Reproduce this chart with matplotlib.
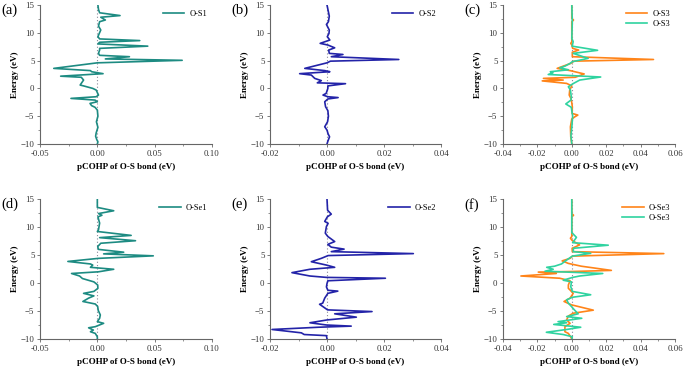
import numpy as np
import matplotlib
matplotlib.use("Agg")
import matplotlib.pyplot as plt
from matplotlib.ticker import MultipleLocator, FormatStrFormatter

plt.rcParams['font.family'] = ['Liberation Serif', 'DejaVu Serif']

# (a) O-S1
a_E = [15, 14.2, 13.6, 13.1, 12.8, 12.3, 12.0, 11.2, 10.5, 9.8, 9.3, 8.9, 8.6, 8.3, 8.0, 7.6, 7.2, 6.9,
       6.3, 5.95, 5.7, 5.3, 5.05, 4.6, 3.6, 3.2, 3.0, 2.65, 2.2, 2.0, 1.5, 0.6, 0.45, 0.0, -0.3, -1.2,
       -1.5, -1.8, -2.1, -2.4, -2.7, -3.1, -3.4, -3.9, -5.0, -6.0, -7.0, -8.0, -8.6, -9.2, -9.6, -10]
a_V = [0.0005, 0.001, 0.002, 0.0198, 0.003, 0.007, 0.002, 0.001, 0.003, 0.0015, 0.0005, 0.002, 0.037,
       0.002, 0.0005, 0.044, 0.002, 0.002, 0.001, 0.002, 0.028, 0.007, 0.074, 0.0, -0.038, -0.006,
       -0.005, 0.005, -0.032, -0.014, -0.012, -0.015, -0.012, -0.004, -0.001, 0.001, -0.001, -0.023,
       -0.002, 0.0, -0.0064, -0.005, -0.002, 0.0, 0.0005, -0.0008, 0.0005, -0.001, -0.0015, -0.0005,
       0.0005, 0.0]

# (b) O-S2
b_E = [15, 14, 13, 12, 11.5, 11, 10.5, 9.9, 9.3, 8.7, 8.1, 7.8, 7.3, 6.9, 6.3, 6.1, 5.7, 5.2, 4.9, 4.6,
       3.6, 3.2, 3.0, 2.65, 2.4, 1.8, 1.4, 1.0, 0.85, 0.45, 0.0, -0.9, -1.2, -1.5, -1.65, -1.9, -2.4,
       -3.3, -4.0, -5.0, -6.0, -6.9, -7.5, -8.2, -8.7, -9.5, -10]
b_V = [0.0, 0.0004, 0.0008, 0.0005, -0.0002, 0.0003, 0.0008, 0.0007, 0.0001, 0.001, -0.0024, 0.0003,
       0.0027, 0.0006, 0.0008, 0.0056, 0.0015, 0.0252, 0.0012, 0.0, -0.0078, -0.0008, 0.001, -0.0096,
       -0.0055, -0.0043, -0.002, -0.0034, 0.0065, 0.0003, 0.0003, -0.0003, -0.0014, 0.0003, 0.0039,
       0.0003, -0.0008, -0.0005, 0.0003, 0.0005, 0.0002, -0.0008, 0.0, 0.0004, 0.0009, 0.0003, 0.0]

# (c) O-S3, two curves
c1_E = [15, 12.6, 12.3, 12.0, 8.4, 8.1, 7.8, 7.2, 6.9, 6.5, 5.7, 5.2, 4.9, 4.5, 3.6, 3.2, 2.6, 2.0, 1.8,
        1.5, 1.35, 0.9, 0.45, -0.3, -1.2, -1.8, -2.6, -3.3, -4.5, -4.8, -5.1, -5.5, -6.9, -8.7, -10]
c1_V = [0.0, 0.0, 0.001, 0.0, 0.0, -0.0006, 0.0, 0.0005, 0.004, 0.0003, 0.0003, 0.0475, 0.0012, -0.0006,
        -0.0085, -0.001, 0.0072, 0.002, -0.0165, -0.005, -0.0172, -0.003, 0.0, -0.0012, -0.0015,
        -0.0005, 0.0, 0.0003, 0.0002, 0.0035, 0.0018, 0.0, -0.0008, -0.0006, 0.0]
c2_E = [15, 12, 9.0, 8.4, 7.6, 6.85, 6.3, 5.4, 4.8, 4.5, 4.0, 3.7, 3.35, 3.0, 2.8, 2.5, 2.05, 1.5, 0.9,
        0.3, -0.3, -1.5, -2.1, -2.8, -3.4, -5.0, -7.0, -8.5, -10]
c2_V = [0.0, 0.0003, 0.0, 0.0008, 0.0002, 0.015, 0.0008, 0.0095, 0.0003, -0.001, -0.004, -0.007, -0.002,
        -0.0125, -0.011, -0.0137, 0.0168, 0.0046, 0.001, -0.002, -0.0008, -0.0003, -0.0005, -0.0035,
        -0.0003, 0.0005, 0.0, -0.0005, 0.0]

# (d) O-Se1
d_E = [15, 13.5, 12.9, 12.4, 12.1, 11.8, 10.7, 9.5, 9.2, 8.5, 8.1, 7.55, 7.1, 6.5, 6.0, 5.5, 5.2, 4.85,
       4.4, 3.85, 3.4, 3.2, 2.8, 2.45, 2.0, 1.7, 1.25, 0.8, 0.2, -0.35, -0.95, -1.5, -1.85, -2.3, -2.7,
       -3.3, -3.75, -4.2, -4.9, -5.7, -6.3, -6.9, -7.2, -7.8, -8.0, -8.4, -8.7, -9.0, -9.6, -10]
d_V = [0.0, 0.0, 0.0143, 0.001, 0.004, 0.0005, 0.002, 0.001, 0.0, 0.0295, 0.002, 0.0333, 0.003, 0.0003,
       0.001, 0.023, 0.0055, 0.0488, 0.001, -0.0257, -0.006, -0.004, -0.006, 0.0143, 0.001, -0.0225,
       -0.0155, -0.013, -0.003, 0.0003, 0.0005, -0.003, -0.012, -0.003, -0.0076, -0.0126, -0.0018,
       0.0003, 0.0008, 0.0026, 0.002, 0.0, 0.0055, -0.0018, -0.0076, -0.0035, -0.006, -0.0018, 0.0, 0.0]

# (e) O-Se2
e_E = [15, 13.0, 12.3, 11.8, 11.0, 10.65, 10.1, 8.9, 8.3, 7.4, 6.9, 6.4, 6.05, 5.6, 5.25, 4.9, 4.4, 3.8,
       3.2, 2.8, 2.45, 1.85, 1.25, 1.0, 0.85, 0.4, -0.1, -0.7, -1.3, -1.45, -1.85, -2.7, -3.6, -3.8,
       -4.3, -4.8, -5.1, -5.5, -6.1, -6.6, -7.1, -7.5, -7.7, -7.9, -8.3, -8.9, -9.2, -9.4, -10]
e_V = [0.0, 0.0002, 0.0015, 0.0001, -0.0008, 0.0004, -0.0002, -0.0006, 0.0003, 0.0027, 0.0003, 0.0015,
       0.006, 0.0015, 0.0303, 0.0004, -0.002, -0.0055, -0.0002, 0.0027, -0.006, -0.0123, -0.006,
       -0.0002, 0.0205, 0.0003, 0.0, -0.0002, 0.0003, 0.0038, 0.0003, -0.0008, -0.0015, -0.0026,
       -0.0012, 0.0002, 0.0158, 0.0027, 0.0103, 0.0, -0.006, -0.0002, 0.0085, -0.003, -0.0193, -0.009,
       -0.008, -0.0002, 0.0]

# (f) O-Se3, two curves
f1_E = [15, 12.4, 12.1, 11.8, 8.3, 8.0, 7.6, 6.8, 6.2, 5.6, 5.25, 4.8, 4.4, 3.95, 3.5, 3.0, 2.25, 2.05,
        1.95, 1.7, 1.25, 0.85, 0.4, -0.35, -0.95, -1.25, -1.85, -2.7, -3.3, -3.9, -4.85, -5.4, -5.9,
        -6.6, -7.2, -7.8, -8.7, -9.0, -9.6, -10]
f1_V = [0.0, 0.0, 0.001, 0.0, 0.0, -0.0008, 0.0002, 0.0045, 0.0002, 0.0003, 0.0535, 0.0005, -0.001,
        -0.0056, -0.002, 0.0055, 0.023, 0.0, -0.0195, -0.009, -0.0296, -0.007, -0.001, -0.002, -0.002,
        -0.001, 0.0008, -0.001, -0.0045, -0.0002, 0.0125, 0.0008, -0.002, -0.003, -0.001, -0.004,
        -0.004, -0.002, -0.0007, 0.0]
f2_E = [15, 9.0, 8.15, 7.2, 6.75, 6.2, 5.6, 5.3, 4.8, 4.1, 3.4, 3.0, 2.8, 2.45, 2.1, 1.7, 1.25, 1.0, 0.5,
        0.2, -0.65, -1.5, -2.1, -2.55, -3.0, -3.6, -4.2, -4.8, -5.5, -6.0, -6.3, -6.9, -7.1, -7.4, -7.9,
        -8.3, -8.8, -9.2, -9.6, -10]
f2_V = [0.0, 0.0, 0.0027, 0.0005, 0.0212, 0.001, 0.0008, 0.011, 0.0003, -0.003, -0.006, -0.01, -0.0146,
        -0.0108, -0.0156, 0.018, 0.0046, 0.0005, -0.005, -0.0002, -0.0006, 0.0003, 0.011, 0.0003,
        -0.003, -0.002, -0.0002, 0.0015, 0.0037, -0.003, 0.0058, -0.008, -0.003, -0.0105, 0.0052,
        -0.003, -0.0148, -0.005, 0.0003, 0.0]

TEAL = '#1d8b82'
BLUE = '#2323a8'
ORANGE = '#ff8419'
MINT = '#2fd3a0'

panels = [
    ('(a)', (-0.05, 0.10), 0.05, [(a_E, a_V, TEAL, 'O-S1')]),
    ('(b)', (-0.02, 0.04), 0.02, [(b_E, b_V, BLUE, 'O-S2')]),
    ('(c)', (-0.04, 0.06), 0.02, [(c1_E, c1_V, ORANGE, 'O-S3'), (c2_E, c2_V, MINT, 'O-S3')]),
    ('(d)', (-0.05, 0.10), 0.05, [(d_E, d_V, TEAL, 'O-Se1')]),
    ('(e)', (-0.02, 0.04), 0.02, [(e_E, e_V, BLUE, 'O-Se2')]),
    ('(f)', (-0.04, 0.06), 0.02, [(f1_E, f1_V, ORANGE, 'O-Se3'), (f2_E, f2_V, MINT, 'O-Se3')]),
]

W, H = 685, 368
fig = plt.figure(figsize=(W / 100, H / 100), dpi=100)

# axes boxes in pixels: left, top, right, bottom
col_px = [(40, 212), (270, 441), (503, 675)]
row_px = [(5, 144), (199, 339)]

for i, (tag, xlim, xstep, curves) in enumerate(panels):
    r, c = divmod(i, 3)
    x0, x1 = col_px[c]
    y0, y1 = row_px[r]
    ax = fig.add_axes([x0 / W, 1 - y1 / H, (x1 - x0) / W, (y1 - y0) / H])

    ax.axvline(0, color='#8a8a9a', lw=0.8, ls=(0, (1, 2)), zorder=1)
    for E, V, col, lab in curves:
        ax.plot(V, E, color=col, lw=1.2, label=lab, zorder=2)

    ax.set_xlim(*xlim)
    ax.set_ylim(-10, 15)
    ax.xaxis.set_major_locator(MultipleLocator(xstep))
    ax.xaxis.set_minor_locator(MultipleLocator(xstep / 2))
    ax.xaxis.set_major_formatter(FormatStrFormatter('%.2f'))
    ax.yaxis.set_major_locator(MultipleLocator(5))
    ax.yaxis.set_minor_locator(MultipleLocator(2.5))
    ax.tick_params(which='major', direction='out', length=2.5, width=0.6, labelsize=6.3,
                   color='#666666', labelcolor='#333333', pad=1.5)
    ax.tick_params(which='minor', direction='out', length=1.5, width=0.5, color='#666666')
    for s in ['top', 'right']:
        ax.spines[s].set_visible(False)
    for s in ['left', 'bottom']:
        ax.spines[s].set_color('#666666')
        ax.spines[s].set_linewidth(0.8)

    ax.set_xlabel('pCOHP of O-S bond (eV)', fontsize=6.5, fontweight='bold', labelpad=4)
    ax.set_ylabel('Energy (eV)', fontsize=6.5, fontweight='bold', labelpad=1)

    ax.legend(loc='upper right', frameon=False, fontsize=6, handlelength=2.6,
              handletextpad=0.6, borderaxespad=0.2, labelspacing=0.2)

    fig.text((x0 - 39) / W, 1 - (y0 - 1) / H, tag, fontsize=10.5, ha='left', va='top')

fig.savefig('out.png', dpi=100)
